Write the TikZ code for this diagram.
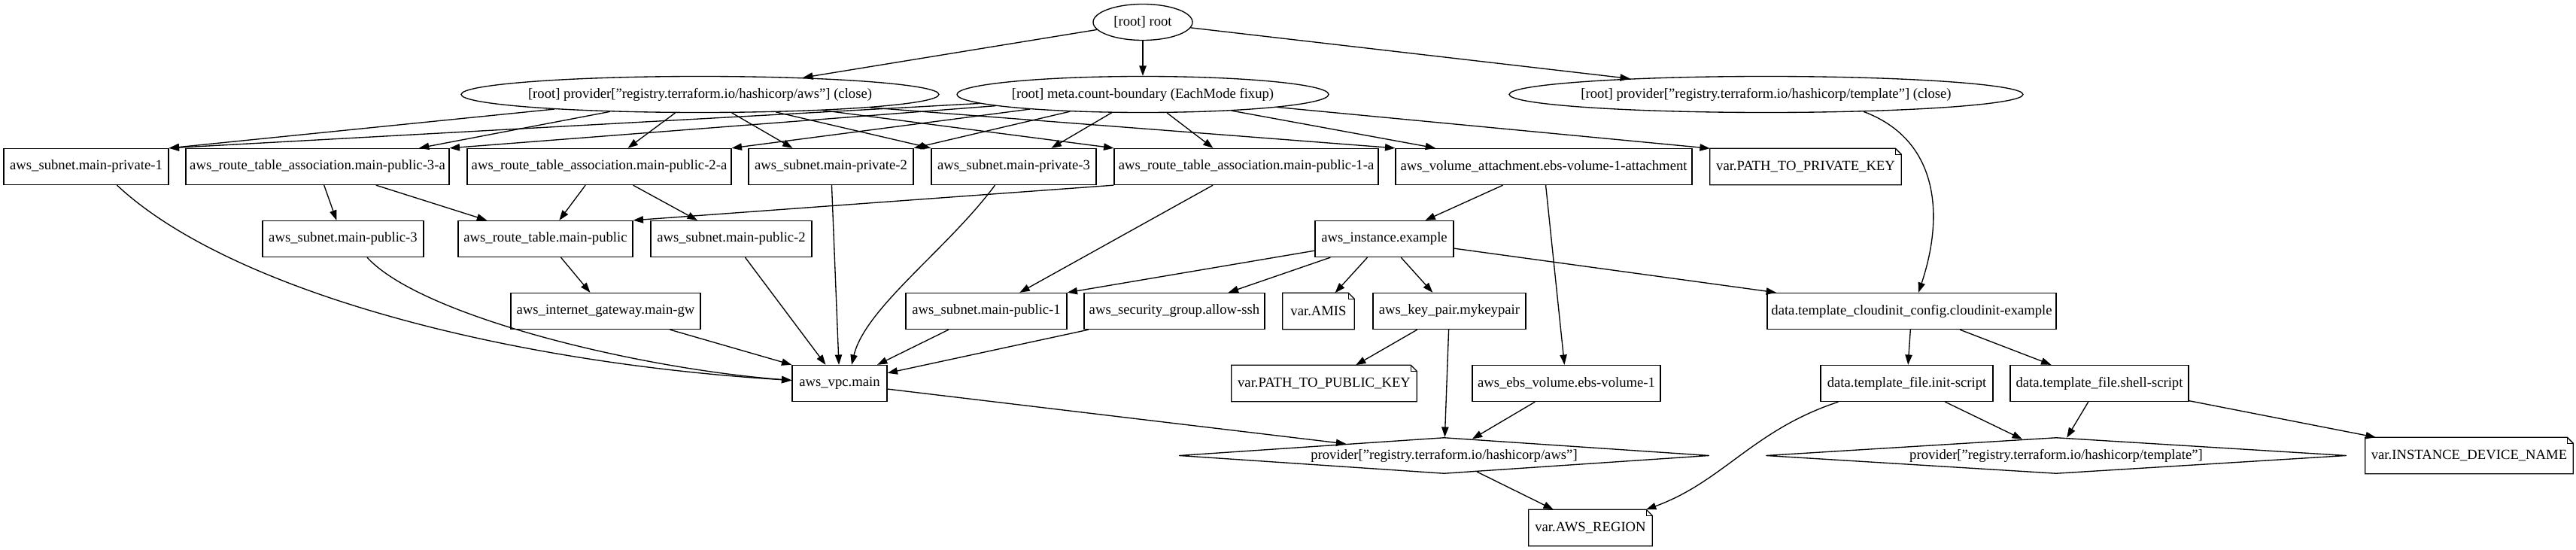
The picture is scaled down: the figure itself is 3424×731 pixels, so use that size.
\documentclass[tikz,border=0pt]{standalone}
\usepackage{fontspec}
\setmainfont{Liberation Serif}
\usetikzlibrary{shapes.geometric,arrows.meta}
\newcommand\zw[1]{\makebox[0pt]{#1}}
\tikzset{
 thinline/.style={line width=1pt, line join=miter},
 base/.style={inner sep=0pt, minimum height=36pt, font=\fontsize{14pt}{17pt}\selectfont},
 box/.style={base, draw, thinline, rectangle},
 notebox/.style={base, rectangle},
 oval/.style={base, draw, thinline, ellipse},
 dia/.style={base, draw, thinline, diamond},
 wd/.style={minimum width=#1*0.75pt},
 arr/.style={line width=1pt, -{Triangle[length=10pt,width=7pt]}},
}
\newcommand\noteframe[1]{%
 \draw[thinline] (#1.south west) -- (#1.north west) -- ([xshift=-6pt]#1.north east) -- ([yshift=-6pt]#1.north east) -- (#1.south east) -- cycle;
 \draw[thinline] ([xshift=-6pt]#1.north east) -- ([xshift=-6pt,yshift=-6pt]#1.north east) -- ([yshift=-6pt]#1.north east);}
\begin{document}
\begin{tikzpicture}[x=0.75pt,y=-0.75pt]
\fill[white] (0,0) rectangle (3424,731);
\useasboundingbox (0,0) rectangle (3424,731);
% row 0/1
\node[oval, wd=132] (root) at (1519,29.5) {\zw{[root] root}};
\node[oval, wd=635] (pawsc) at (930.5,125.5) {\zw{[root] provider["registry.terraform.io/hashicorp/aws"] (close)}};
\node[oval, wd=494] (meta) at (1519,125.5) {\zw{[root] meta.count-boundary (EachMode fixup)}};
\node[oval, wd=683] (ptplc) at (2347.5,125.5) {\zw{[root] provider["registry.terraform.io/hashicorp/template"] (close)}};
% row 2
\node[box, wd=219] (priv1) at (114.5,221.5) {aws\_subnet.main-private-1};
\node[box, wd=350] (rta3a) at (422,221.5) {aws\_route\_table\_association.main-public-3-a};
\node[box, wd=351] (rta2a) at (796.5,221.5) {aws\_route\_table\_association.main-public-2-a};
\node[box, wd=219] (priv2) at (1104.5,221.5) {aws\_subnet.main-private-2};
\node[box, wd=219] (priv3) at (1347.5,221.5) {aws\_subnet.main-private-3};
\node[box, wd=351] (rta1a) at (1656.5,221.5) {aws\_route\_table\_association.main-public-1-a};
\node[box, wd=394] (volatt) at (2052,221.5) {aws\_volume\_attachment.ebs-volume-1-attachment};
\node[notebox, wd=254] (ptpk) at (2400,221.5) {var.PATH\_TO\_PRIVATE\_KEY};
% row 3
\node[box, wd=214] (pub3) at (456,317.5) {aws\_subnet.main-public-3};
\node[box, wd=232] (rt) at (725,317.5) {aws\_route\_table.main-public};
\node[box, wd=214] (pub2) at (972,317.5) {aws\_subnet.main-public-2};
\node[box, wd=184] (inst) at (1840,317.5) {aws\_instance.example};
% row 4
\node[box, wd=252] (igw) at (805,413.5) {aws\_internet\_gateway.main-gw};
\node[box, wd=214] (pub1) at (1311,413.5) {aws\_subnet.main-public-1};
\node[box, wd=240] (sg) at (1561,413.5) {aws\_security\_group.allow-ssh};
\node[notebox, wd=95] (amis) at (1752.5,413.5) {var.AMIS};
\node[box, wd=203] (kp) at (1926.5,413.5) {aws\_key\_pair.mykeypair};
\node[box, wd=384] (ci) at (2541,413.5) {data.template\_cloudinit\_config.cloudinit-example};
% row 5
\node[box, wd=126] (vpc) at (1116,509.5) {aws\_vpc.main};
\node[notebox, wd=246] (ptpub) at (1760,509.5) {var.PATH\_TO\_PUBLIC\_KEY};
\node[box, wd=250] (ebs) at (2082,509.5) {aws\_ebs\_volume.ebs-volume-1};
\node[box, wd=229] (init) at (2534.5,509.5) {data.template\_file.init-script};
\node[box, wd=237] (shell) at (2790.5,509.5) {data.template\_file.shell-script};
% row 6
\node[dia, wd=705] (pawsd) at (1919.5,605.5) {\zw{provider["registry.terraform.io/hashicorp/aws"]}};
\node[dia, wd=772] (ptpld) at (2733,605.5) {\zw{provider["registry.terraform.io/hashicorp/template"]}};
\node[notebox, wd=276] (idn) at (3282,605.5) {var.INSTANCE\_DEVICE\_NAME};
% row 7
\node[notebox, wd=164] (region) at (2114,701.5) {var.AWS\_REGION};
\noteframe{ptpk}\noteframe{amis}\noteframe{ptpub}\noteframe{idn}\noteframe{region}
% edges from root
\draw[arr] (root) -- (pawsc);
\draw[arr] (root) -- (meta);
\draw[arr] (root) -- (ptplc);
% provider aws close
\draw[arr] (pawsc) -- (priv1.north east);
\draw[arr] (pawsc) -- ([shift={(135,0)}]rta3a.north);
\draw[arr] (pawsc) -- ([shift={(38,0)}]rta2a.north);
\draw[arr] (pawsc) -- ([shift={(-51,0)}]priv2.north);
\draw[arr] (pawsc) -- (priv3.north west);
\draw[arr] (pawsc) -- (rta1a.north west);
\draw[arr] (pawsc) -- (volatt.north west);
% meta
\draw[arr] (meta) -- (priv1.north east);
\draw[arr] (meta) -- (rta3a.north east);
\draw[arr] (meta) -- (rta2a.north east);
\draw[arr] (meta) -- (priv2.north east);
\draw[arr] (meta) -- ([shift={(50,0)}]priv3.north);
\draw[arr] (meta) -- ([shift={(-44,0)}]rta1a.north);
\draw[arr] (meta) -- ([shift={(-144,0)}]volatt.north);
\draw[arr] (meta) -- (ptpk.north west);
% template close
\draw[arr] (ptplc.-10.3) .. controls +(99,37) and +(35,-104.5) .. ([shift={(9,0)}]ci.north);
% row 2 down
\draw[arr] (rta3a) -- (pub3);
\draw[arr] (rta3a) -- (rt);
\draw[arr] (rta2a) -- (rt);
\draw[arr] (rta2a) -- (pub2);
\draw[arr] (rta1a.south west) -- (rt.north east);
\draw[arr] (rta1a) -- (pub1);
\draw[arr] (volatt) -- (inst);
\draw[arr] (volatt) -- (ebs);
\draw[arr] ([shift={(41,0)}]priv1.south) .. controls +(144,135) and +(-400,-25) .. ([shift={(0,-4)}]vpc.west);
\draw[arr] ([shift={(32,0)}]pub3.south) .. controls +(72,78.5) and +(-203,-15.5) .. ([shift={(0,-4)}]vpc.west);
\draw[arr] (priv2) -- (vpc);
\draw[arr] ([shift={(-25,0)}]priv3.south) .. controls +(-62.5,84.5) and +(18,-75.5) .. ([shift={(16,0)}]vpc.north);
\draw[arr] (pub2) -- (vpc);
\draw[arr] (rt) -- (igw);
\draw[arr] (igw) -- (vpc.north west);
\draw[arr] (pub1) -- (vpc);
\draw[arr] (sg) -- (vpc);
% instance
\draw[arr] (inst) -- (pub1.north east);
\draw[arr] (inst) -- (sg);
\draw[arr] (inst) -- (amis);
\draw[arr] (inst) -- (kp);
\draw[arr] (inst) -- (ci);
% lower
\draw[arr] (kp) -- (ptpub);
\draw[arr] (kp) -- (pawsd);
\draw[arr] (ebs) -- (pawsd);
\draw[arr] (vpc) -- (pawsd);
\draw[arr] (pawsd) -- (region);
\draw[arr] ([shift={(-91,0)}]init.south) .. controls +(-113,37) and +(102,-37) .. ([shift={(74,0)}]region.north);
\draw[arr] (init) -- (ptpld);
\draw[arr] (shell) -- (ptpld);
\draw[arr] (shell) -- (idn);
\draw[arr] (ci) -- (init);
\draw[arr] (ci) -- (shell);
\end{tikzpicture}
\end{document}
